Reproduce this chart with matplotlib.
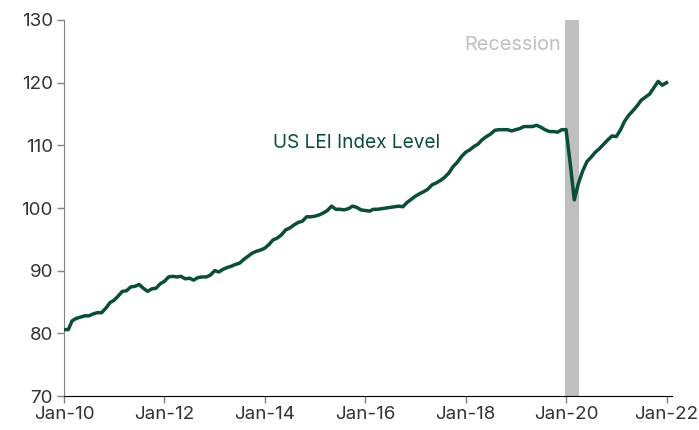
import matplotlib
matplotlib.use('Agg')
import matplotlib.pyplot as plt
import matplotlib.dates as mdates
import pandas as pd

# US LEI index level, monthly Jan-2010 .. Jan-2022
lei_2010 = [80.6, 80.6, 82.0, 82.4, 82.6, 82.8, 82.8, 83.1, 83.3, 83.3, 84.0, 84.9]
lei_2011 = [85.3, 86.0, 86.7, 86.8, 87.4, 87.5, 87.8, 87.2, 86.7, 87.1, 87.2, 87.9]
lei_2012 = [88.3, 89.0, 89.1, 89.0, 89.1, 88.7, 88.8, 88.5, 88.9, 89.0, 89.0, 89.3]
lei_2013 = [90.0, 89.8, 90.2, 90.5, 90.7, 91.0, 91.2, 91.8, 92.3, 92.8, 93.1, 93.3]
lei_2014 = [93.6, 94.2, 94.9, 95.2, 95.7, 96.5, 96.8, 97.3, 97.7, 97.9, 98.6, 98.6]
lei_2015 = [98.7, 98.9, 99.2, 99.6, 100.3, 99.8, 99.8, 99.7, 99.9, 100.3, 100.1, 99.7]
lei_2016 = [99.6, 99.5, 99.8, 99.8, 99.9, 100.0, 100.1, 100.2, 100.3, 100.2, 100.9, 101.4]
lei_2017 = [101.9, 102.3, 102.6, 103.0, 103.7, 104.0, 104.4, 104.9, 105.6, 106.6, 107.3, 108.2]
lei_2018 = [108.9, 109.3, 109.8, 110.2, 110.9, 111.4, 111.8, 112.4, 112.5, 112.5, 112.5, 112.3]
lei_2019 = [112.5, 112.7, 113.0, 113.0, 113.0, 113.2, 112.9, 112.5, 112.2, 112.2, 112.1, 112.5]
lei_2020 = [112.5, 107.0, 101.3, 104.0, 105.9, 107.4, 108.1, 108.9, 109.5, 110.2, 110.9, 111.5]
lei_2021 = [111.4, 112.5, 113.8, 114.8, 115.5, 116.3, 117.2, 117.7, 118.2, 119.2, 120.2, 119.6]
lei_2022 = [120.0]

lei = (lei_2010 + lei_2011 + lei_2012 + lei_2013 + lei_2014 + lei_2015 + lei_2016
       + lei_2017 + lei_2018 + lei_2019 + lei_2020 + lei_2021 + lei_2022)
dates = pd.date_range('2010-01-01', periods=len(lei), freq='MS')

recession_start = pd.Timestamp('2019-12-25')
recession_end = pd.Timestamp('2020-04-01')

GREEN = '#0a4d3a'
GREY = '#bfbfbf'

plt.rcParams['font.family'] = ['Inter', 'DejaVu Sans']

fig = plt.figure(figsize=(6.99, 4.30), dpi=100)
ax = fig.add_axes([0.0916, 0.079, 0.8694, 0.8745])

ax.axvspan(recession_start, recession_end, color=GREY, lw=0, zorder=1)
ax.plot(dates, lei, color=GREEN, lw=2.5, zorder=3, solid_joinstyle='round')

ax.set_ylim(70, 130)
ax.set_yticks(range(70, 131, 10))
ax.set_xlim(pd.Timestamp('2010-01-01'), pd.Timestamp('2022-02-08'))
ax.xaxis.set_major_locator(mdates.YearLocator(2, month=1, day=1))
ax.xaxis.set_major_formatter(mdates.DateFormatter('Jan-%y'))

for s in ['top', 'right']:
    ax.spines[s].set_visible(False)
ax.spines['left'].set_color('#808080')
ax.spines['bottom'].set_color('#000000')
ax.tick_params(axis='y', colors='#808080', labelcolor='#333333', labelsize=13.5,
               length=5, width=1, pad=3)
ax.tick_params(axis='x', colors='#808080', labelcolor='#333333', labelsize=13.5,
               length=5, width=1, pad=2)

ax.text(pd.Timestamp('2015-11-01'), 110.3, 'US LEI Index Level', color=GREEN,
        fontsize=13.7, ha='center', va='center')
ax.text(pd.Timestamp('2018-12-10'), 126.0, 'Recession', color=GREY,
        fontsize=14.3, ha='center', va='center')

fig.savefig('out.png', dpi=100, facecolor='white')
